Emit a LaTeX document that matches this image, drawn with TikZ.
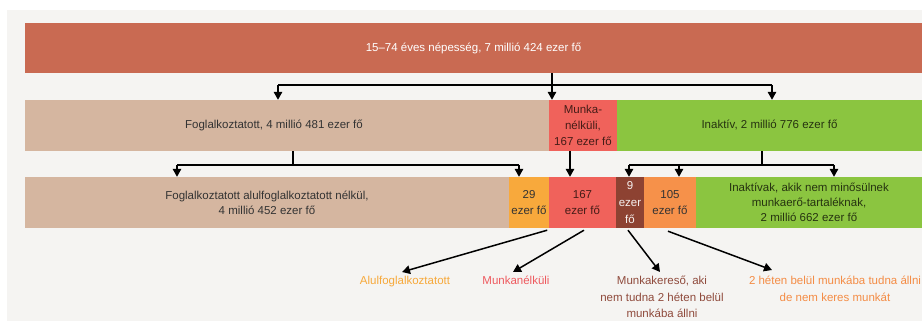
\documentclass[tikz,border=0pt]{standalone}
\usepackage{fontspec}
\setmainfont{Liberation Sans}
\usetikzlibrary{arrows.meta}
\definecolor{bggray}{HTML}{F5F4F2}
\definecolor{topc}{HTML}{C96A52}
\definecolor{tanc}{HTML}{D5B6A0}
\definecolor{redc}{HTML}{F0625B}
\definecolor{greenc}{HTML}{8BC540}
\definecolor{orlight}{HTML}{F8A93C}
\definecolor{brownc}{HTML}{8D4232}
\definecolor{ordark}{HTML}{F6914A}
\definecolor{darktxt}{HTML}{333333}
\definecolor{greentxt}{HTML}{263310}
\definecolor{redtxt}{HTML}{451C17}
\definecolor{lblorange}{HTML}{F7A93B}
\definecolor{lblred}{HTML}{EE5A5F}
\definecolor{lblbrown}{HTML}{8F4A3C}
\definecolor{lblor2}{HTML}{F48C45}
\begin{document}
\begin{tikzpicture}[x=1pt,y=-1pt,
  font=\fontsize{11.5}{15}\selectfont,
  box/.style={draw=none, inner sep=0pt, align=center, minimum height=51pt},
  conn/.style={line width=1.5pt, black},
  arr/.style={conn, -{Triangle[width=8.5pt,length=8pt]}},
  lbl/.style={align=center, inner sep=0pt, anchor=north}]
\useasboundingbox (0,0) rectangle (922,321);
\fill[bggray] (7,10) rectangle (922,321);
% row 1
\node[box, fill=topc, text=white, minimum width=897pt, minimum height=50pt] (top) at (473.5,48) {15–74 éves népesség, 7 millió 424 ezer fő};
% row 2
\node[box, fill=tanc, text=darktxt, minimum width=524pt] (fogl) at (287,125.5) {\hspace*{-26pt}Foglalkoztatott, 4 millió 481 ezer fő};
\node[box, fill=redc, text=redtxt, minimum width=68pt, font=\fontsize{11.5}{16}\selectfont] (munka) at (583,125.5) {Munka-\\nélküli,\\167 ezer fő};
\node[box, fill=greenc, text=greentxt, minimum width=305pt] (inakt) at (769.5,125.5) {Inaktív, 2 millió 776 ezer fő};
% row 3
\node[box, fill=tanc, text=darktxt, minimum width=484pt] (fogl2) at (267,202.5) {Foglalkoztatott alulfoglalkoztatott nélkül,\\4 millió 452 ezer fő};
\node[box, fill=orlight, text=darktxt, minimum width=40pt, font=\fontsize{11.5}{16}\selectfont] (b29) at (529,202.5) {29\\ezer fő};
\node[box, fill=redc, text=redtxt, minimum width=67pt, font=\fontsize{11.5}{16}\selectfont] (b167) at (582.5,202.5) {167\\ezer fő};
\node[box, fill=brownc, text=white!92!brownc, minimum width=28pt, font=\fontsize{11.5}{17}\selectfont] (b9) at (630,202.5) {9\\ezer\\fő};
\node[box, fill=ordark, text=darktxt, minimum width=52pt, font=\fontsize{11.5}{16}\selectfont] (b105) at (670,202.5) {105\\ezer fő};
\node[box, fill=greenc, text=greentxt, minimum width=226pt] (inakt2) at (809,202.5) {Inaktívak, akik nem minősülnek\\munkaerő-tartaléknak,\\2 millió 662 ezer fő};
% bottom labels
\node[lbl, text=lblorange] (lalul) at (405,276) {Alulfoglalkoztatott};
\node[lbl, text=lblred] (lmn) at (516,276) {Munkanélküli};
\node[lbl, text=lblbrown, font=\fontsize{11.5}{16.5}\selectfont] (lmk) at (662,276) {Munkakereső, aki\\nem tudna 2 héten belül\\munkába állni};
\node[lbl, text=lblor2, font=\fontsize{11.5}{16.5}\selectfont] (lhn) at (835,276) {2 héten belül munkába tudna állni\\de nem keres munkát};
% connectors row1 -> row2
\coordinate (h1) at (552,85);
\coordinate (h1l) at (278,85);
\coordinate (h1r) at (772,85);
\draw[conn] (h1l) -- (h1r);
\draw[arr] (top.south -| h1) -- (h1 |- munka.north);
\draw[arr] (h1l) -- (h1l |- fogl.north);
\draw[arr] (h1r) -- (h1r |- inakt.north);
% connectors row2 -> row3
\coordinate (h2) at (293,165);
\coordinate (h2l) at (177,165);
\coordinate (h2r) at (519,165);
\draw[conn] (fogl.south -| h2) -- (h2);
\draw[conn] (h2l) -- (h2r);
\draw[arr] (h2l) -- (h2l |- fogl2.north);
\draw[arr] (h2r) -- (h2r |- b29.north);
\coordinate (m2) at (570,151);
\draw[arr] (munka.south -| m2) -- (m2 |- b167.north);
\coordinate (h3) at (762,165);
\coordinate (h3a) at (629,165);
\coordinate (h3b) at (679,165);
\coordinate (h3c) at (834,165);
\draw[conn] (inakt.south -| h3) -- (h3);
\draw[conn] (h3a) -- (h3c);
\draw[arr] (h3a) -- (h3a |- b9.north);
\draw[arr] (h3b) -- (h3b |- b105.north);
\draw[arr] (h3c) -- (h3c |- inakt2.north);
% bottom arrows
\draw[arr] ([xshift=-2pt,yshift=-2pt]b29.south east) -- ([xshift=-3pt,yshift=4pt]lalul.north);
\draw[arr] ([xshift=1.5pt,yshift=-2pt]b167.south) -- ([xshift=-3pt,yshift=4pt]lmn.north);
\draw[arr] ([xshift=-2pt,yshift=-2pt]b9.south) -- ([xshift=-2pt,yshift=4pt]lmk.north);
\draw[arr] ([xshift=-2pt,yshift=-3pt]b105.south) -- ([xshift=-63pt,yshift=6pt]lhn.north);
\end{tikzpicture}
\end{document}
